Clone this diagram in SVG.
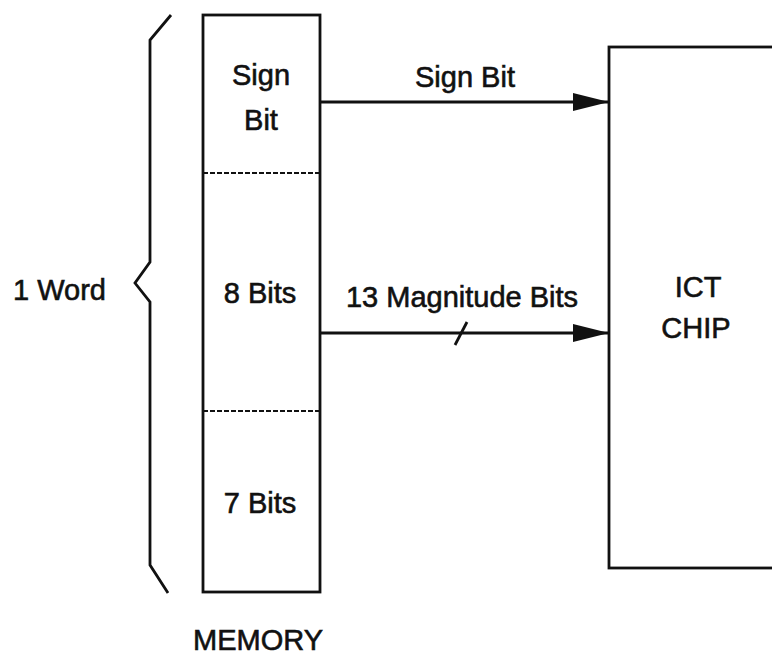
<svg xmlns="http://www.w3.org/2000/svg" width="772" height="657" viewBox="0 0 772 657">
<defs>
<style>
text{font-family:"Liberation Sans",Arial,Helvetica,sans-serif;font-size:29px;fill:#111;stroke:#111;stroke-width:0.6;}
.ln{stroke:#111;stroke-width:2.8;fill:none;}
.dash{stroke:#111;stroke-width:2;stroke-dasharray:5 2;fill:none;}
</style>
<marker id="ah" markerUnits="userSpaceOnUse" markerWidth="36" markerHeight="20" refX="36" refY="10" orient="auto">
<path d="M0,1 L36,10 L0,19 Z" fill="#111"/>
</marker>
</defs>
<rect width="772" height="657" fill="#fff"/>
<g id="brace">
<path class="ln" d="M171,15 L150,40 L150,262 L135,283 L150,302 L150,565 L168,593"/>
<text x="13" y="300">1 Word</text>
</g>
<g id="memory">
<rect class="ln" x="203" y="15" width="117" height="577"/>
<line class="dash" x1="203" y1="173" x2="320" y2="173"/>
<line class="dash" x1="203" y1="411" x2="320" y2="411"/>
<text x="261" y="85" text-anchor="middle">Sign</text>
<text x="261" y="130" text-anchor="middle">Bit</text>
<text x="260" y="303" text-anchor="middle">8 Bits</text>
<text x="260" y="513" text-anchor="middle">7 Bits</text>
<text x="258" y="650" text-anchor="middle">MEMORY</text>
</g>
<g id="ictchip">
<rect class="ln" x="609" y="47" width="200" height="521"/>
<text x="698" y="297" text-anchor="middle">ICT</text>
<text x="696" y="338" text-anchor="middle">CHIP</text>
</g>
<g id="connectors">
<line class="ln" x1="320" y1="102" x2="609" y2="102" marker-end="url(#ah)"/>
<text x="465" y="87" text-anchor="middle">Sign Bit</text>
<line class="ln" x1="320" y1="333" x2="609" y2="333" marker-end="url(#ah)"/>
<line class="ln" x1="455" y1="345" x2="467" y2="322"/>
<text x="462" y="307" text-anchor="middle">13 Magnitude Bits</text>
</g>
</svg>
